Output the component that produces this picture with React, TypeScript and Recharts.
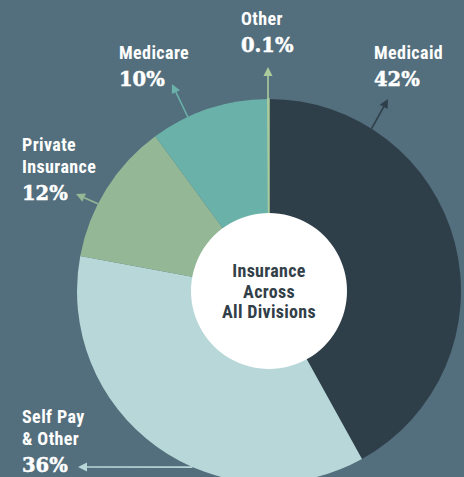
import { PieChart, Pie, Cell } from 'recharts';

// shares of patients by payer, across all divisions
const categories = ['Medicaid', 'Self Pay & Other', 'Private Insurance', 'Medicare', 'Other'];
const shares = [42, 36, 12, 10, 0.1];
const shareLabels = ['42%', '36%', '12%', '10%', '0.1%'];
const labelLines = [['Medicaid'], ['Self Pay', '& Other'], ['Private', 'Insurance'], ['Medicare'], ['Other']];
const centerTitle = ['Insurance', 'Across', 'All Divisions'];

const colors = ['#2f3f4a', '#b7d7d9', '#94b796', '#6ab1aa', '#aacb9c'];
const BG = '#536e7c';

const W = 464;
const H = 477;
const CX = 269;
const CY = 291;
const R = 192;
const HOLE = 78;

// hand placed callouts: where the arrow leaves the rim, where it points, where the text sits
const callouts = [
  { angle: 57.7, tip: [388, 99], x: 374, y: 59 },
  { angle: 246.5, tip: [78, 467], x: 22, y: 423 },
  { angle: 153, tip: [76, 194], x: 22, y: 151 },
  { angle: 115, tip: [172, 84], x: 119, y: 59 },
  { angle: 90.3, tip: [268, 67], x: 241, y: 25 },
];

const data = categories.map((name, i) => ({ name, value: shares[i] }));

const sansFont = '"Liberation Sans Narrow", "Roboto Condensed", "Liberation Sans", sans-serif';
const serifFont = '"DejaVu Serif", serif';

function renderCallout(props: any) {
  const i = props.index;
  const c = callouts[i];
  const cx = props.cx ?? CX;
  const cy = props.cy ?? CY;
  const r = props.outerRadius ?? R;
  const rad = (c.angle * Math.PI) / 180;
  const sx = cx + r * Math.cos(rad);
  const sy = cy - r * Math.sin(rad);
  const [tx, ty] = c.tip;
  const len = Math.hypot(tx - sx, ty - sy);
  const ux = (tx - sx) / len;
  const uy = (ty - sy) / len;
  const head = 9;
  const half = 4.5;
  const bx = tx - ux * head;
  const by = ty - uy * head;
  const pts = `${tx},${ty} ${bx - uy * half},${by + ux * half} ${bx + uy * half},${by - ux * half}`;
  const lines = labelLines[i];
  const lastY = c.y + (lines.length - 1) * 22;
  return (
    <g key={`callout-${i}`}>
      <line x1={sx} y1={sy} x2={bx} y2={by} stroke={colors[i]} strokeWidth={1.6} />
      <polygon points={pts} fill={colors[i]} />
      <text x={c.x} y={c.y} fill="#ffffff" fontFamily={sansFont} fontWeight={700} fontSize={18} letterSpacing={0.4}>
        {lines.map((ln, k) => (
          <tspan key={k} x={c.x} y={c.y + k * 22}>{ln}</tspan>
        ))}
      </text>
      <text
        x={c.x}
        y={lastY + 27}
        fill="#ffffff"
        stroke="#ffffff"
        strokeWidth={0.5}
        fontFamily={serifFont}
        fontWeight="bold"
        fontSize={19.5}
      >
        {shareLabels[i]}
      </text>
    </g>
  );
}

function renderCenter(props: any) {
  const cx = props.cx ?? CX;
  const cy = props.cy ?? CY;
  return (
    <text key="center-title" x={cx} y={cy - 14} textAnchor="middle" fill="#323f48" fontFamily={sansFont} fontWeight={700} fontSize={18} letterSpacing={0.3}>
      {centerTitle.map((ln, k) => (
        <tspan key={k} x={cx} y={cy - 14 + k * 20.5}>{ln}</tspan>
      ))}
    </text>
  );
}

export default function App() {
  return (
    <div style={{ position: 'absolute', left: 0, top: 0, width: W, height: H, background: BG, overflow: 'hidden' }}>
      <PieChart width={W} height={H} margin={{ top: 0, right: 0, bottom: 0, left: 0 }}>
        <Pie
          data={data}
          dataKey="value"
          nameKey="name"
          cx={CX}
          cy={CY}
          outerRadius={R}
          innerRadius={0}
          startAngle={90}
          endAngle={-270}
          stroke="none"
          label={renderCallout}
          labelLine={false}
          isAnimationActive={false}
        >
          {data.map((d, i) => (
            <Cell
              key={d.name}
              fill={colors[i]}
              stroke={i === 4 ? colors[i] : 'none'}
              strokeWidth={i === 4 ? 1.5 : 0}
            />
          ))}
        </Pie>
        <Pie
          data={[{ name: 'center', value: 1 }]}
          dataKey="value"
          cx={CX}
          cy={CY}
          outerRadius={HOLE}
          fill="#ffffff"
          stroke="none"
          label={renderCenter}
          labelLine={false}
          isAnimationActive={false}
        />
      </PieChart>
    </div>
  );
}
